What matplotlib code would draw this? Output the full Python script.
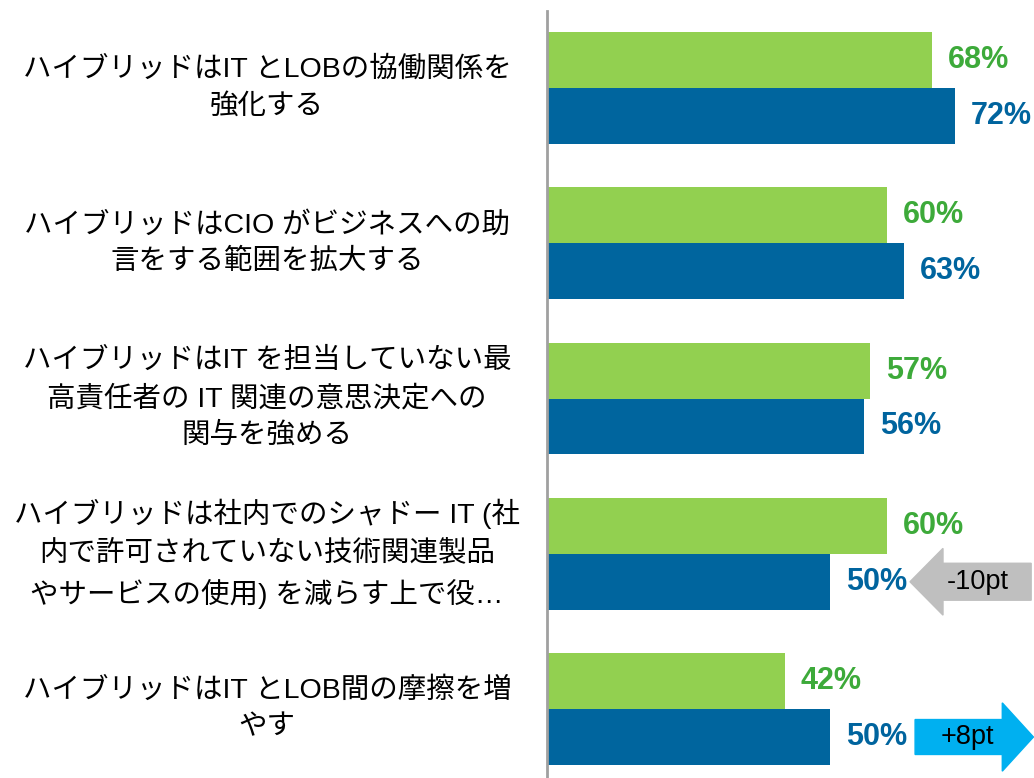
import matplotlib
matplotlib.use("Agg")
import matplotlib.pyplot as plt
from matplotlib.patches import FancyArrow
from matplotlib.transforms import blended_transform_factory
import numpy as np

plt.rcParams['font.family'] = ['Liberation Sans', 'Noto Sans CJK JP', 'DejaVu Sans']

# =========================
# data
# =========================
categories = [
    "ハイブリッドはIT とLOBの協働関係を\n強化する",
    "ハイブリッドはCIO がビジネスへの助\n言をする範囲を拡大する",
    "ハイブリッドはIT を担当していない最\n高責任者の IT 関連の意思決定への\n関与を強める",
    "ハイブリッドは社内でのシャドー IT (社\n内で許可されていない技術関連製品\nやサービスの使用) を減らす上で役…",
    "ハイブリッドはIT とLOB間の摩擦を増\nやす",
]
green_vals = [68, 60, 57, 60, 42]
blue_vals = [72, 63, 56, 50, 50]

# change callouts: (row index, text, direction)
change_rows = [3, 4]
change_texts = ["-10pt", "+8pt"]
change_dirs = [-1, 1]

GREEN_BAR = "#92D050"
BLUE_BAR = "#00659E"
GREEN_TXT = "#3DAA3A"
BLUE_TXT = "#00649E"

fig = plt.figure(figsize=(10.34, 7.78), dpi=100)
ax = fig.add_axes([547 / 1034, 0.0, 1 - 547 / 1034, 767 / 778])

y = np.arange(len(categories))
h = 0.36
ax.barh(y - h / 2, green_vals, height=h, color=GREEN_BAR, edgecolor="none")
ax.barh(y + h / 2, blue_vals, height=h, color=BLUE_BAR, edgecolor="none")

ax.set_xlim(0, 86)
ax.set_ylim(4.444, -0.496)

for s in ["top", "right", "bottom"]:
    ax.spines[s].set_visible(False)
ax.spines["left"].set_color("#A0A0A0")
ax.spines["left"].set_linewidth(2)
ax.set_xticks([])
ax.set_yticks([])

# value labels
for i in range(len(categories)):
    ax.text(green_vals[i] + 2.8, y[i] - h / 2, f"{green_vals[i]}%", color=GREEN_TXT,
            fontsize=22, fontweight="bold", va="center", ha="left")
    ax.text(blue_vals[i] + 2.8, y[i] + h / 2, f"{blue_vals[i]}%", color=BLUE_TXT,
            fontsize=22, fontweight="bold", va="center", ha="left")

# category labels
trans = blended_transform_factory(fig.transFigure, ax.transData)
for i, c in enumerate(categories):
    ax.text(267 / 1034, y[i], c, transform=trans, ha="center", va="center",
            fontsize=20.5, linespacing=1.52, clip_on=False)

# change arrows
for r, t, d in zip(change_rows, change_texts, change_dirs):
    yc = y[r] + h / 2
    if d < 0:
        start = blue_vals[r] + 14.1
        arr = FancyArrow(start + 21.4, yc, -21.4, 0, width=0.238, head_width=0.43,
                         head_length=5.83, length_includes_head=True,
                         color="#BFBFBF", clip_on=False)
        tx = start + 12.0
    else:
        start = blue_vals[r] + 15.0
        arr = FancyArrow(start, yc, 20.9, 0, width=0.225, head_width=0.44,
                         head_length=5.5, length_includes_head=True,
                         color="#00B0F0", clip_on=False)
        tx = start + 9.2
    ax.add_patch(arr)
    ax.text(tx, yc, t, color="black", fontsize=19.5, ha="center", va="center")

fig.savefig("out.png", dpi=100)
